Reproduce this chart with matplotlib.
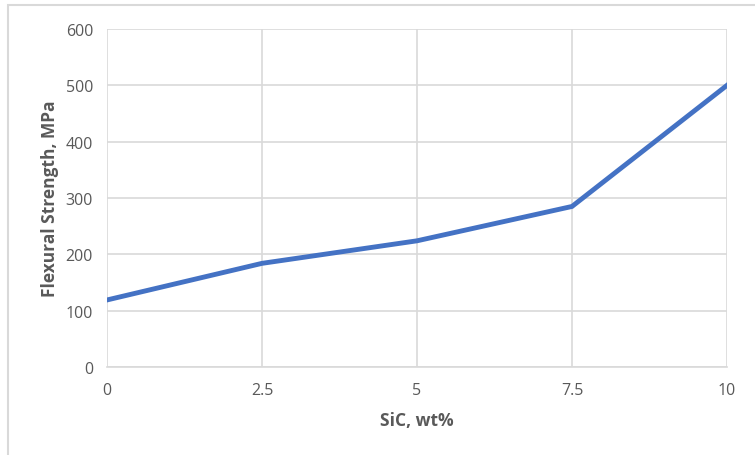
import matplotlib
matplotlib.use("Agg")
import matplotlib.pyplot as plt
from matplotlib.patches import Rectangle

# data
sic_wt = [0, 2.5, 5, 7.5, 10]
strength = [119, 184, 224, 285, 500]
x_ticks = [0, 2.5, 5, 7.5, 10]
x_tick_labels = ["0", "2.5", "5", "7.5", "10"]
y_ticks = [0, 100, 200, 300, 400, 500, 600]

plt.rcParams["font.family"] = ["Open Sans", "DejaVu Sans"]

fig = plt.figure(figsize=(7.55, 4.56), dpi=100)
ax = fig.add_axes([107 / 755, 1 - 368 / 456, 620 / 755, 338 / 456])

# light frame around the chart, cut off at right and bottom
fig.patches.append(Rectangle((8 / 755, -0.1), 1.2, 1 - 6 / 456 + 0.1,
                             transform=fig.transFigure, fill=False,
                             edgecolor="#d9d9d9", linewidth=1.5))

ax.plot(sic_wt, strength, color="#4472c4", linewidth=3.5, solid_joinstyle="miter", zorder=3)

ax.set_xlim(0, 10)
ax.set_ylim(0, 600)
ax.set_xticks(x_ticks)
ax.set_xticklabels(x_tick_labels)
ax.set_yticks(y_ticks)
ax.grid(True, color="#d9d9d9", linewidth=1.2)
ax.set_axisbelow(True)
for side in ["top", "right", "left"]:
    ax.spines[side].set_visible(False)
ax.spines["bottom"].set_color("#d9d9d9")
ax.spines["bottom"].set_linewidth(1.2)
ax.tick_params(length=0, labelsize=11.5, labelcolor="#595959")
ax.tick_params(axis="x", pad=11)
ax.tick_params(axis="y", pad=10)

ax.set_xlabel("SiC, wt%", fontsize=12.5, fontweight="bold", color="#595959", labelpad=9)
ax.set_ylabel("Flexural Strength, MPa", fontsize=12.5, fontweight="bold", color="#595959", labelpad=5)

fig.savefig("out.png", dpi=100)
